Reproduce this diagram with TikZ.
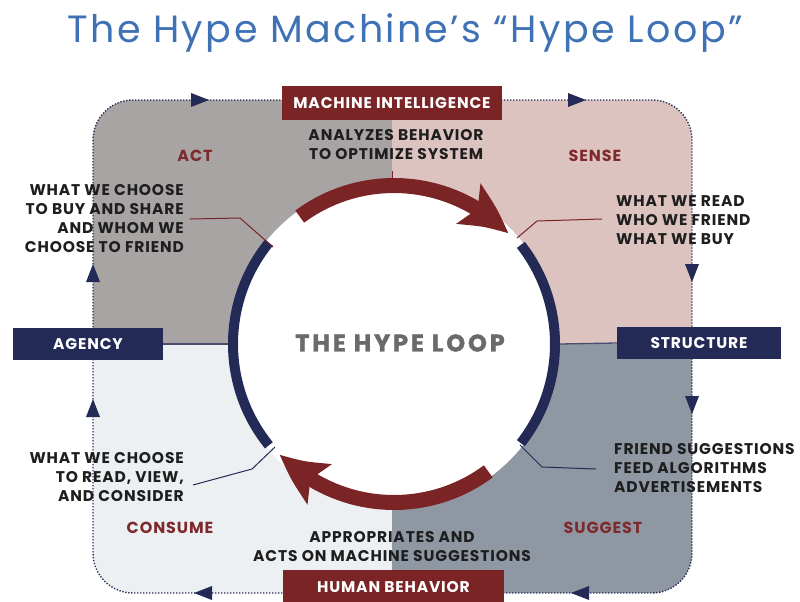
\documentclass[tikz,border=0pt]{standalone}
\usepackage{fontspec}
\setmainfont{Poppins}
\newfontfamily\titlefont{Poppins}[LetterSpace=6.5]
\newfontfamily\labfont{Poppins}[LetterSpace=5.5]
\newfontfamily\loopfont{Poppins}[LetterSpace=12, BoldFeatures={FakeBold=1.5}]
\usetikzlibrary{arrows.meta,bending}
\definecolor{titleblue}{HTML}{3F72B5}
\definecolor{quadTL}{HTML}{A9A4A4}
\definecolor{quadTR}{HTML}{DCC3C0}
\definecolor{quadBL}{HTML}{ECF0F2}
\definecolor{quadBR}{HTML}{8F97A2}
\definecolor{darkred}{HTML}{7A2426}
\definecolor{navy}{HTML}{232A56}
\definecolor{labred}{HTML}{7E2A2D}
\definecolor{txtblack}{HTML}{1E1E1E}
\definecolor{centergray}{HTML}{6A6A6A}
\definecolor{divline}{HTML}{4A4E6E}
\tikzset{
  box/.style={inner sep=0pt, text=white, font=\labfont\bfseries\fontsize{15.5}{17}\selectfont},
  redbox/.style={box, fill=darkred},
  navybox/.style={box, fill=navy},
  phase/.style={inner sep=0pt, text=labred, font=\labfont\bfseries\fontsize{16}{18}\selectfont},
  body/.style={inner sep=0pt, text=txtblack, font=\labfont\bfseries\fontsize{15.5}{19}\selectfont},
  dotborder/.style={draw=navy, line width=1.4pt, dash pattern=on 1.3pt off 1.7pt},
  redarc/.style={draw=darkred, line width=15pt, -{Stealth[length=50pt,width=45pt,inset=10pt,bend]}},
  bluearc/.style={draw=navy, line width=10pt},
  leadred/.style={draw=darkred, line width=1pt},
  leadnavy/.style={draw=navy, line width=1pt},
  divider/.style={draw=divline, line width=1.3pt},
}
\newcommand\flowtri[3]{\fill[navy,shift={(#1,#2)},rotate=#3] (9,0) -- (-9,7) -- (-9,-7) -- cycle;}
\begin{document}
\begin{tikzpicture}[x=1pt,y=-1pt]
\useasboundingbox (0,0) rectangle (800,602);
% quadrants
\begin{scope}
\clip[rounded corners=40pt] (93,100) rectangle (692,593);
\fill[quadTL] (93,100) rectangle (392,344);
\fill[quadTR] (392,100) rectangle (692,344);
\fill[quadBL] (93,344) rectangle (392,593);
\fill[quadBR] (392,344) rectangle (692,593);
\end{scope}
\draw[dotborder, rounded corners=40pt] (93,100) rectangle (692,593);
% title
\node[font=\titlefont\fontsize{38}{42}\selectfont, text=titleblue] (title) at (405,33) {The Hype Machine’s “Hype Loop”};
% circle
\coordinate (C) at (394,344);
% boxes
\node[navybox, minimum width=150pt, minimum height=32pt] (agency) at (88,344) {AGENCY};
\node[navybox, minimum width=164pt, minimum height=32pt] (structure) at (699,343) {STRUCTURE};
\coordinate (cl) at (228,344);
\coordinate (cr) at (560,344);
\draw[divider] (agency.east) -- (cl);
\draw[divider] (cr) -- (structure.west);
\fill[white] (C) circle[radius=164pt];
\draw[bluearc] ([shift={(-141:161)}]C) arc[start angle=-141, end angle=-219, radius=161];
\draw[bluearc] ([shift={(38:161)}]C) arc[start angle=38, end angle=-38, radius=161];
\draw[redarc] ([shift={(-126.5:158.5)}]C) arc[start angle=-126.5, end angle=-44, radius=158.5];
\draw[redarc] ([shift={(53.5:158.5)}]C) arc[start angle=53.5, end angle=136, radius=158.5];
\node[redbox, minimum width=220pt, minimum height=34pt] (mi) at (392,103) {MACHINE INTELLIGENCE};
\node[redbox, minimum width=221pt, minimum height=34pt] (hb) at (393.5,587) {HUMAN BEHAVIOR};
% texts
\node[body, align=center] (analyze) at (396,144.5) {ANALYZES BEHAVIOR\\TO OPTIMIZE SYSTEM};
\coordinate (tick) at (392,178);
\draw[leadred] (392,171) -- (tick);
\node[body, align=center] (approp) at (392,547) {APPROPRIATES AND\\ACTS ON MACHINE SUGGESTIONS};
\node[phase] (act) at (195,156) {ACT};
\node[phase] (sense) at (595,156) {SENSE};
\node[phase] (consume) at (170,528) {CONSUME};
\node[phase] (suggest) at (603,528) {SUGGEST};
\node[inner sep=0pt, text=centergray, font=\loopfont\bfseries\fontsize{24}{26}\selectfont] (loop) at (400,343) {THE HYPE LOOP};
\node[body, align=right, anchor=east] (tlt) at (184,218.5) {WHAT WE CHOOSE\\TO BUY AND SHARE\\AND WHOM WE\\CHOOSE TO FRIEND};
\node[body, align=left, anchor=west] (trt) at (616,220) {WHAT WE READ\\WHO WE FRIEND\\WHAT WE BUY};
\node[body, align=left, anchor=west] (brt) at (614,468) {FRIEND SUGGESTIONS\\FEED ALGORITHMS\\ADVERTISEMENTS};
\node[body, align=right, anchor=east] (blt) at (184,477) {WHAT WE CHOOSE\\TO READ, VIEW,\\AND CONSIDER};
% leaders
\coordinate (tlend) at (273,247);
\coordinate (trend) at (517,238);
\coordinate (brend) at (520,445);
\coordinate (blend) at (275,447);
\draw[leadred] ([xshift=6pt,yshift=-0.5pt]tlt.east) -- (240,218) -- (tlend);
\draw[leadred] ([xshift=-14pt,yshift=1pt]trt.west) -- (537,221) -- (trend);
\draw[leadnavy] ([xshift=-18pt,yshift=-1pt]brt.west) -- (542,467) -- (brend);
\draw[leadnavy] ([xshift=9pt,yshift=-8pt]blt.east) -- (252,469) -- (blend);
% flow triangles
\flowtri{200}{100}{0}
\flowtri{577}{100}{0}
\flowtri{692}{273}{-90}
\flowtri{692}{405}{-90}
\flowtri{580}{593}{180}
\flowtri{203}{593}{180}
\flowtri{93}{408}{90}
\flowtri{93}{273}{90}
\end{tikzpicture}
\end{document}
